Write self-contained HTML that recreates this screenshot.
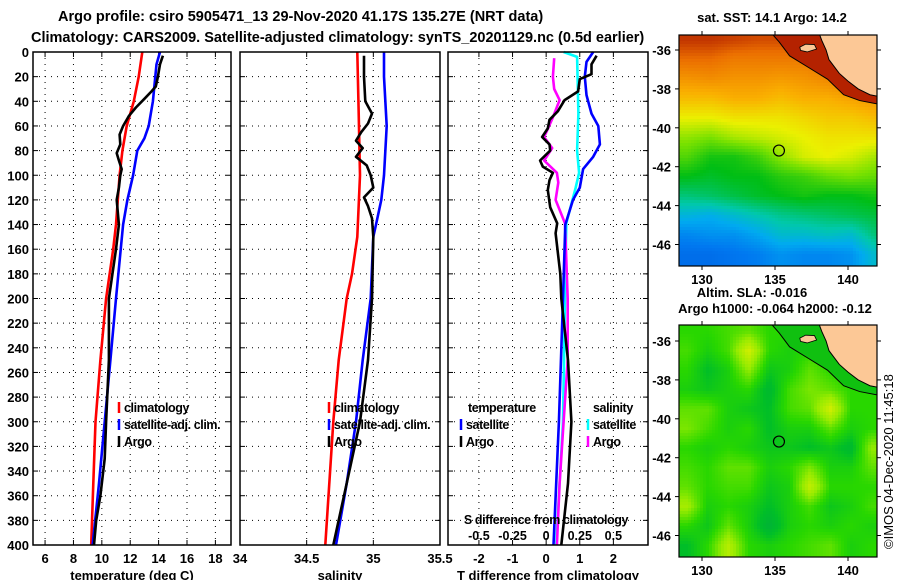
<!DOCTYPE html>
<html><head><meta charset="utf-8">
<style>
html,body{margin:0;padding:0;background:#fff;}
svg{display:block;font-family:"Liberation Sans",Arial,sans-serif;font-weight:bold;}
</style></head>
<body>
<svg id="fig" width="900" height="580" viewBox="0 0 900 580" xmlns="http://www.w3.org/2000/svg">
<text x="58" y="21" font-size="14.5">Argo profile: csiro 5905471_13 29-Nov-2020 41.17S 135.27E (NRT data)</text>
<text x="31" y="42" font-size="14.5">Climatology: CARS2009. Satellite-adjusted climatology: synTS_20201129.nc (0.5d earlier)</text>
<g id="panels"></g>
<g id="maps"></g>
<text x="772" y="22" font-size="13" text-anchor="middle">sat. SST: 14.1 Argo: 14.2</text>
<text x="752" y="297" font-size="13" text-anchor="middle">Altim. SLA: -0.016</text>
<text x="775" y="313" font-size="13" text-anchor="middle">Argo h1000: -0.064 h2000: -0.12</text>
<text transform="translate(893,549) rotate(-90)" font-size="13" font-weight="normal">©IMOS 04-Dec-2020 11:45:18</text>
</svg>
<script>
// ---------- profile data (depth in m, value) ----------
const depthTicks=[0,20,40,60,80,100,120,140,160,180,200,220,240,260,280,300,320,340,360,380,400];
const tempTicks=[6,8,10,12,14,16,18];
const salTicks=[34,34.5,35,35.5];
const tdiffTicks=[-2,-1,0,1,2];
const sdiffTicks=[-0.5,-0.25,0,0.25,0.5];
const tClimDepth=[0,20,40,60,80,100,140,160,200,250,300,350,400];
const tClimVal=[12.85,12.6,12.25,11.75,11.45,11.25,11.0,10.8,10.3,9.9,9.55,9.4,9.25];
const tSatDepth=[0,10,40,60,70,80,100,120,140,200,250,300,350,400];
const tSatVal=[14.1,13.85,13.6,13.3,13.0,12.5,12.2,11.8,11.5,11.0,10.6,10.2,9.8,9.35];
const tArgoDepth=[3,10,20,28,32,38,45,52,60,67,75,82,88,95,100,110,120,140,160,200,250,300,330,360,380,400];
const tArgoVal=[14.3,14.1,13.95,13.8,13.5,13.0,12.4,11.9,11.5,11.25,11.3,11.05,11.2,11.4,11.3,11.2,11.05,11.2,11.0,10.5,10.5,10.3,10.2,9.9,9.6,9.45];
const sClimDepth=[0,50,100,150,180,200,250,300,350,400];
const sClimVal=[34.88,34.89,34.9,34.88,34.84,34.8,34.74,34.7,34.67,34.64];
const sSatDepth=[0,20,60,100,120,140,150,200,250,300,350,400];
const sSatVal=[35.08,35.08,35.1,35.08,35.06,35.02,35.0,34.98,34.92,34.87,34.8,34.72];
const sArgoDepth=[3,20,40,50,58,65,72,78,85,92,100,110,118,125,135,150,200,250,300,350,400];
const sArgoVal=[34.93,34.93,34.94,34.99,34.96,34.91,34.87,34.92,34.87,34.95,34.98,35.0,34.93,34.96,34.99,35.0,34.99,34.96,34.9,34.8,34.7];
const dtSatDepth=[0,8,20,35,50,60,75,85,95,110,120,140,200,300,400];
const dtSatVal=[1.4,1.2,1.15,1.2,1.35,1.55,1.6,1.4,1.1,1.0,0.8,0.57,0.5,0.38,0.22];
const dtArgoDepth=[3,10,18,22,32,39,48,55,62,69,75,80,88,93,98,104,112,126,139,147,180,200,250,300,350,400];
const dtArgoVal=[1.5,1.35,1.35,1.0,0.95,0.55,0.35,0.1,0.05,-0.12,0.1,0.12,-0.18,-0.1,0.2,0.1,0.05,0.12,0.33,0.28,0.42,0.45,0.65,0.75,0.65,0.45];
const dsSatDepth=[0,4,50,80,98,110,139,200,300,350,400];
const dsSatVal=[0.13,0.23,0.24,0.23,0.245,0.22,0.15,0.14,0.125,0.1,0.075];
const dsArgoDepth=[5,20,30,39,53,63,69,78,88,98,106,120,139,200,250,300,350,400];
const dsArgoVal=[0.06,0.05,0.06,0.1,0.05,0.01,-0.015,0.045,-0.015,0.08,0.09,0.07,0.14,0.16,0.16,0.13,0.1,0.08];

// ---------- map data ----------
const sstLats=[-35.5,-36.5,-37.5,-38.5,-39.5,-40.5,-41.5,-42.5,-43.5,-44.5,-45.5,-46.5];
const sstLons=[129,130.6,132.2,133.8,135.4,137,138.6,140.2,141.8];
const sstGrid=[
[.97,.97,.96,.95,.95,.96,.97,.98,.99],
[.92,.92,.9,.9,.9,.9,.92,.95,.97],
[.86,.87,.86,.86,.85,.86,.88,.9,.93],
[.8,.8,.82,.82,.8,.82,.82,.84,.86],
[.72,.72,.74,.74,.74,.76,.78,.78,.8],
[.64,.62,.66,.68,.7,.72,.74,.74,.74],
[.58,.52,.52,.56,.64,.7,.72,.7,.66],
[.5,.48,.5,.5,.54,.56,.6,.62,.6],
[.4,.42,.45,.48,.5,.52,.5,.5,.52],
[.28,.26,.3,.34,.38,.4,.42,.44,.46],
[.18,.2,.2,.24,.3,.3,.32,.3,.4],
[.12,.12,.14,.16,.2,.18,.18,.2,.3]];
const slaLats=[-35.5,-36.5,-37.5,-38.5,-39.5,-40.5,-41.5,-42.5,-43.5,-44.5,-45.5,-46.5];
const slaLons=[129,130.4,131.8,133.2,134.6,136,137.4,138.8,140.2,141.6];
const slaGrid=[
[.5,.5,.55,.6,.5,.5,.5,.5,.5,.5],
[.55,.45,.55,.9,.5,.45,.5,.5,.5,.5],
[.5,.35,.45,.7,.4,.45,.6,.5,.45,.5],
[.45,.4,.45,.5,.3,.55,.65,.6,.5,.5],
[.6,.6,.45,.4,.35,.55,.6,.9,.5,.5],
[.65,.55,.45,.5,.35,.45,.45,.6,.45,.5],
[.5,.45,.5,.45,.4,.4,.35,.4,.3,.7],
[.55,.5,.6,.6,.45,.5,.65,.45,.45,.6],
[.6,.5,.55,.55,.4,.45,.85,.5,.5,.5],
[.75,.45,.5,.45,.35,.45,.55,.4,.45,.55],
[.5,.4,.6,.45,.25,.45,.5,.45,.5,.45],
[.35,.5,.8,.5,.45,.5,.55,.6,.45,.5]];
const lonTicks=[130,135,140];
const latTicks=[-36,-38,-40,-42,-44,-46];
const argoLon=135.27, argoLat=-41.17;

const NS='http://www.w3.org/2000/svg';
function mk(tag,attrs,parent){const e=document.createElementNS(NS,tag);for(const k in attrs)e.setAttribute(k,attrs[k]);parent.appendChild(e);return e;}
const panels=document.getElementById('panels');
const yTop=52,yBot=545;
function yD(d){return yTop+(yBot-yTop)*d/400;}

function panel(name,x0,x1,dmin,dmax,gridVals,tickLabels,title){
  const g=mk('g',{},panels);
  
  
  const xs=v=>x0+(x1-x0)*(v-dmin)/(dmax-dmin);
  depthTicks.forEach(d=>{
    if(d>0&&d<400){const l=mk('line',{x1:x0,x2:x1,y1:yD(d),y2:yD(d),stroke:'#000','stroke-width':1,'stroke-dasharray':'1 5'},g);
    
    mk('line',{x1:x0,x2:x0+5,y1:yD(d),y2:yD(d),stroke:'#000'},g);mk('line',{x1:x1-5,x2:x1,y1:yD(d),y2:yD(d),stroke:'#000'},g);}
  });
  gridVals.forEach(v=>{
    const X=xs(v);if(X<=x0+1||X>=x1-1)return;
    const l=mk('line',{x1:X,x2:X,y1:yTop,y2:yBot,stroke:'#000','stroke-width':1,'stroke-dasharray':'1 5'},g);
    
    mk('line',{x1:X,x2:X,y1:yTop,y2:yTop+5,stroke:'#000'},g);mk('line',{x1:X,x2:X,y1:yBot-5,y2:yBot,stroke:'#000'},g);
  });
  tickLabels.forEach(v=>{
    const t=mk('text',{x:xs(v),y:563,'font-size':13,'text-anchor':'middle'},g);t.textContent=String(v);
    
  });
  const tt=mk('text',{x:(x0+x1)/2,y:580,'font-size':13,'text-anchor':'middle'},g);tt.textContent=title;
  
  return {g,xs,x0,x1};
}
function frame(p){const r=mk('rect',{x:p.x0,y:yTop,width:p.x1-p.x0,height:yBot-yTop,fill:'none',stroke:'#000','stroke-width':1.5},p.g);
  }
function series(p,depths,vals,color,name,sc){
  sc=sc||1;
  const pts=depths.map((d,i)=>p.xs(vals[i]*sc).toFixed(1)+','+yD(d).toFixed(1)).join(' ');
  const l=mk('polyline',{points:pts,fill:'none',stroke:color,'stroke-width':2.6,'stroke-linejoin':'round'},p.g);
  
}
function legend(p,x,y,color,label,name){
  const g=mk('g',{},p.g);
  mk('line',{x1:x,x2:x,y1:y-10,y2:y+1,stroke:color,'stroke-width':2.5},g);
  const t=mk('text',{x:x+5,y:y,'font-size':12.5,'letter-spacing':'-0.4'},g);t.textContent=label;
}

// depth labels
depthTicks.forEach(d=>{
  const t=mk('text',{x:29,y:yD(d)+5,'font-size':13,'text-anchor':'end'},panels);t.textContent=d;
  
});

const p1=panel('temperature-panel',33,231,5.15,19.1,tempTicks,tempTicks,'temperature (deg C)');
series(p1,tClimDepth,tClimVal,'#f00','temp-climatology-line');
series(p1,tSatDepth,tSatVal,'#00f','temp-satellite-line');
series(p1,tArgoDepth,tArgoVal,'#000','temp-argo-line');
legend(p1,119,412,'#f00','climatology','legend-climatology');
legend(p1,119,429,'#00f','satellite-adj. clim.','legend-satellite');
legend(p1,119,446,'#000','Argo','legend-argo');
frame(p1);

const p2=panel('salinity-panel',240,440,34,35.5,[34.5,35],salTicks,'salinity');
series(p2,sClimDepth,sClimVal,'#f00','sal-climatology-line');
series(p2,sSatDepth,sSatVal,'#00f','sal-satellite-line');
series(p2,sArgoDepth,sArgoVal,'#000','sal-argo-line');
legend(p2,329,412,'#f00','climatology','legend-climatology');
legend(p2,329,429,'#00f','satellite-adj. clim.','legend-satellite');
legend(p2,329,446,'#000','Argo','legend-argo');
frame(p2);

const p3=panel('difference-panel',448,648,-2.92,3.03,tdiffTicks,tdiffTicks,'T difference from climatology');
series(p3,dsSatDepth,dsSatVal,'#0ff','sdiff-satellite-line',4);
series(p3,dsArgoDepth,dsArgoVal,'#f0f','sdiff-argo-line',4);
series(p3,dtSatDepth,dtSatVal,'#00f','tdiff-satellite-line');
series(p3,dtArgoDepth,dtArgoVal,'#000','tdiff-argo-line');
{const t=mk('text',{x:468,y:412,'font-size':12.5,'letter-spacing':'-0.4'},p3.g);t.textContent='temperature';
 const s=mk('text',{x:593,y:412,'font-size':12.5,'letter-spacing':'-0.4'},p3.g);s.textContent='salinity';}
legend(p3,461,429,'#00f','satellite','legend-t-satellite');
legend(p3,461,446,'#000','Argo','legend-t-argo');
legend(p3,588,429,'#0ff','satellite','legend-s-satellite');
legend(p3,588,446,'#f0f','Argo','legend-s-argo');
{const t=mk('text',{x:546,y:524,'font-size':12.5,'letter-spacing':'-0.4','text-anchor':'middle'},p3.g);t.textContent='S difference from climatology';
 sdiffTicks.forEach(v=>{const l=mk('text',{x:p3.xs(v*4),y:540,'font-size':12.5,'text-anchor':'middle'},p3.g);l.textContent=String(v);});}
frame(p3);

// ---------- maps ----------
const maps=document.getElementById('maps');
function lerp(a,b,t){return a+(b-a)*t;}
function cmap(stops,v){v=Math.max(0,Math.min(1,v));for(let i=1;i<stops.length;i++){if(v<=stops[i][0]){const t=(v-stops[i-1][0])/(stops[i][0]-stops[i-1][0]);const a=stops[i-1][1],b=stops[i][1];return 'rgb('+a.map((c,k)=>Math.round(lerp(c,b[k],t))).join(',')+')';}}return 'rgb('+stops[stops.length-1][1].join(',')+')';}
const sstStops=[[0,[0,70,210]],[0.15,[0,120,240]],[0.25,[0,170,240]],[0.35,[0,200,170]],[0.5,[0,190,20]],[0.62,[120,225,0]],[0.72,[235,240,0]],[0.82,[250,175,0]],[0.92,[235,110,0]],[1,[170,20,0]]];
const slaStops=[[0,[0,150,90]],[0.35,[0,190,40]],[0.5,[40,215,0]],[0.7,[150,235,0]],[1,[240,240,0]]];
function sample(lats,lons,grid,lat,lon){
  let fi=(lats[0]-lat)/(lats[0]-lats[lats.length-1])*(lats.length-1);
  let fj=(lon-lons[0])/(lons[lons.length-1]-lons[0])*(lons.length-1);
  fi=Math.max(0,Math.min(lats.length-1.001,fi));fj=Math.max(0,Math.min(lons.length-1.001,fj));
  const i=Math.floor(fi),j=Math.floor(fj),ti=fi-i,tj=fj-j;
  return lerp(lerp(grid[i][j],grid[i][j+1],tj),lerp(grid[i+1][j],grid[i+1][j+1],tj),ti);
}
const coast=[[137.95,-35.0],[138.2,-35.5],[138.5,-36.0],[138.7,-36.5],[139.4,-37.2],[140.0,-37.6],[140.7,-38.0],[141.5,-38.3],[142.2,-38.4],[142.2,-35.0]];
const island=[[136.7,-35.85],[137.1,-35.7],[137.7,-35.72],[137.85,-35.95],[137.2,-36.1],[136.75,-36.02]];
const contour=[[134.6,-35.0],[135.3,-35.6],[136.0,-36.3],[137.3,-36.9],[138.6,-37.5],[139.7,-38.3],[140.8,-38.6],[142.2,-38.8]];
function drawMap(name,x0,x1,y0,y1,latRef,kind){
  const g=mk('g',{},maps);
  const lx=lon=>702+(lon-130)*14.6;
  const ly=lat=>latRef+(-36-lat)*19.45;
  const ilon=x=>130+(x-702)/14.6, ilat=y=>-36-(y-latRef)/19.45;
  const step=3;
  for(let y=y0;y<y1;y+=step){for(let x=x0;x<x1;x+=step){
    const lat=ilat(y+1.5),lon=ilon(x+1.5);
    let col;
    if(kind==='sst') col=cmap(sstStops,sample(sstLats,sstLons,sstGrid,lat,lon));
    else col=cmap(slaStops,sample(slaLats,slaLons,slaGrid,lat,lon));
    mk('rect',{x:x,y:y,width:Math.min(step,x1-x),height:Math.min(step,y1-y),fill:col},g);
  }}
  const cp=mk('clipPath',{id:'clip-'+name},g);mk('rect',{x:x0,y:y0,width:x1-x0,height:y1-y0},cp);
  const inner=mk('g',{'clip-path':'url(#clip-'+name+')'},g);
  const shelfPts=contour.concat(coast.slice(0,-1).reverse());
  const shelf=mk('polygon',{points:shelfPts.map(p=>lx(p[0])+','+ly(p[1])).join(' '),fill:kind==='sst'?'#b42200':'#10c010',stroke:'none'},inner);
  
  const cl=mk('polyline',{points:contour.map(p=>lx(p[0])+','+ly(p[1])).join(' '),fill:'none',stroke:'#000','stroke-width':1},inner);
  
  const land=mk('polygon',{points:coast.map(p=>lx(p[0])+','+ly(p[1])).join(' '),fill:'#fcc896',stroke:'#000','stroke-width':1},inner);
  
  const isl=mk('polygon',{points:island.map(p=>lx(p[0])+','+ly(p[1])).join(' '),fill:'#fcc896',stroke:'#000','stroke-width':0.8},inner);
  
  const m=mk('circle',{cx:lx(argoLon),cy:ly(argoLat),r:5.5,fill:'none',stroke:'#000','stroke-width':1.2},g);
  
  const fr=mk('rect',{x:x0,y:y0,width:x1-x0,height:y1-y0,fill:'none',stroke:'#000','stroke-width':1.2},g);
  
  lonTicks.forEach(lon=>{const X=lx(lon);mk('line',{x1:X,x2:X,y1:y0-4,y2:y0,stroke:'#000'},g);mk('line',{x1:X,x2:X,y1:y1,y2:y1+4,stroke:'#000'},g);
    const t=mk('text',{x:X,y:y1+18,'font-size':13,'text-anchor':'middle'},g);t.textContent=lon;
    });
  latTicks.forEach(lat=>{const Y=ly(lat);mk('line',{x1:x0-4,x2:x0,y1:Y,y2:Y,stroke:'#000'},g);mk('line',{x1:x1,x2:x1+4,y1:Y,y2:Y,stroke:'#000'},g);
    const t=mk('text',{x:x0-8,y:Y+5,'font-size':13,'text-anchor':'end'},g);t.textContent=lat;
    });
}
drawMap('sst-map',679,877,35,266,50,'sst');
drawMap('sla-map',679,877,325,557,341,'sla');
</script>
</body></html>
